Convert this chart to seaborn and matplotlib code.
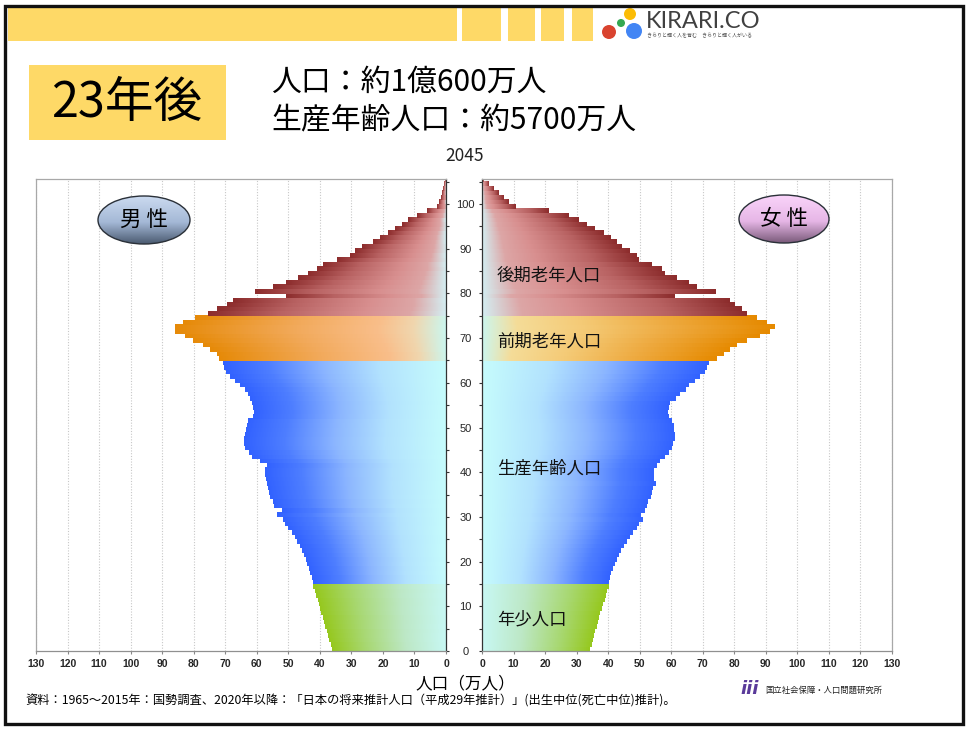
import numpy as np
import pandas as pd
import matplotlib
matplotlib.use("Agg")
import matplotlib.pyplot as plt
import seaborn as sns
from matplotlib.colors import LinearSegmentedColormap
from matplotlib.patches import Rectangle, Ellipse

# ---------------- data (万人) ----------------
ages = list(range(0, 106))
male = [
    36.2, 36.6, 37.0, 37.4, 37.8, 38.3, 38.7, 39.1, 39.5, 39.9, 40.3, 40.7, 41.1, 41.6, 42.1,
    42.3, 42.6, 43.0, 43.5, 44.0, 44.5, 45.0, 45.6, 46.2, 47.3,
    48.0, 48.8, 50.0, 51.2, 51.8, 53.7, 52.1, 54.5, 55.0, 55.8,
    56.2, 56.4, 56.6, 57.2, 57.4, 57.4, 56.9, 59.0, 61.5, 62.6,
    63.6, 63.9, 63.9, 63.8, 63.4, 63.0, 62.7, 61.3, 61.0, 61.1,
    61.6, 62.1, 62.7, 63.7, 65.3, 66.9, 68.5, 69.8, 70.4, 70.8,
    72.0, 72.7, 74.8, 76.9, 80.1, 82.7, 85.9, 85.9, 83.3, 79.6,
    75.4, 72.7, 69.5, 67.4, 50.7, 60.6, 54.8, 50.7, 46.8, 43.6,
    41.0, 38.9, 34.7, 30.4, 28.9, 26.7, 23.0, 20.9, 18.3, 16.2,
    14.1, 11.9, 9.3, 6.1, 3.0, 2.2, 1.7, 1.2, 0.8, 0.5, 0.2]
female = [
    34.2, 34.6, 35.0, 35.4, 35.8, 36.2, 36.6, 37.0, 37.4, 37.8, 38.3, 38.7, 39.1, 39.5, 40.0,
    40.1, 40.3, 40.8, 41.3, 41.9, 42.5, 43.3, 44.0, 44.9, 45.7,
    46.9, 47.8, 49.0, 49.6, 50.9, 50.1, 51.4, 52.2, 52.6, 53.5,
    53.8, 54.0, 54.9, 54.3, 54.3, 54.5, 55.4, 56.4, 58.0, 59.1,
    60.0, 60.3, 60.9, 61.0, 60.8, 60.7, 60.1, 59.0, 58.8, 59.1,
    59.6, 61.2, 62.6, 64.4, 65.4, 67.5, 69.1, 70.4, 71.2, 71.8,
    74.4, 76.5, 78.6, 80.8, 83.9, 88.1, 91.3, 92.9, 90.3, 87.1,
    83.9, 82.3, 80.2, 78.4, 60.9, 73.9, 68.1, 65.4, 61.7, 58.0,
    57.0, 53.8, 49.6, 49.0, 46.9, 44.3, 42.7, 40.6, 38.5, 35.8,
    33.2, 30.5, 27.4, 21.0, 10.5, 8.3, 6.8, 5.2, 3.6, 2.0, 0.6]
band_names = ["年少人口", "生産年齢人口", "前期老年人口", "後期老年人口"]
band_start = [0, 15, 65, 75]
x_ticks = list(range(0, 131, 10))
age_ticks = list(range(0, 106, 5))
year_label = "2045"
title_box = "23年後"
summary = ["人口：約1億600万人", "生産年齢人口：約5700万人"]
source = "資料：1965～2015年：国勢調査、2020年以降：「日本の将来推計人口（平成29年推計）」(出生中位(死亡中位)推計)。"

# ---------------- style ----------------
sns.set_style("white")
plt.rcParams["font.family"] = ["Noto Sans CJK JP", "DejaVu Sans"]

W, H = 969, 731
fig = plt.figure(figsize=(W / 100, H / 100), dpi=100)
fig.patch.set_facecolor("white")

def cm(stops):
    return LinearSegmentedColormap.from_list("g", stops)

cmap_green = cm([(0, "#C8F8F4"), (0.35, "#BDE8C6"), (0.7, "#A8D872"), (1, "#96C81E")])
cmap_blue = cm([(0, "#C6FCFC"), (0.3, "#B2E2FE"), (0.55, "#8CB6FF"), (0.8, "#4E7EFF"), (1, "#3262FF")])
cmap_orange_m = cm([(0, "#CCF6EE"), (0.12, "#F0D6AE"), (0.25, "#F9BE8A"), (0.55, "#F2AA5C"), (1, "#E68A08")])
cmap_orange_f = cm([(0, "#CCF6EE"), (0.12, "#F5DC98"), (0.35, "#F4CA76"), (0.65, "#EEAA40"), (1, "#E68A00")])
cmap_brown = cm([(0, "#D4EEF2"), (0.15, "#DDA6A6"), (0.35, "#D88F8F"), (0.7, "#B86262"), (1, "#8C2C2C")])

def cmap_for(age, female_side):
    if age < band_start[1]:
        return cmap_green
    if age < band_start[2]:
        return cmap_blue
    if age < band_start[3]:
        return cmap_orange_f if female_side else cmap_orange_m
    return cmap_brown

df = pd.DataFrame({"age": ages, "pos": np.array(ages) + 0.5, "male": male, "female": female})

ax_h = 472 / H
ax_b = (H - 651) / H
axL = fig.add_axes([36 / W, ax_b, 410 / W, ax_h])
axR = fig.add_axes([482 / W, ax_b, 410 / W, ax_h])

grad = np.linspace(0, 1, 256).reshape(1, -1)

for ax, col, fem in [(axL, "male", False), (axR, "female", True)]:
    sns.barplot(data=df, x=col, y="pos", orient="y", native_scale=True, width=1.0,
                errorbar=None, color="#888888", linewidth=0, ax=ax, zorder=2)
    for p in list(ax.patches):
        y0, h, w = p.get_y(), p.get_height(), p.get_width()
        age = int(round(y0 + h / 2 - 0.5))
        # gradient painted over the seaborn bar, slightly overlapping neighbours to avoid seams
        ax.imshow(grad, extent=(0, w, y0 - 0.04, y0 + h + 0.04), cmap=cmap_for(age, fem),
                  aspect="auto", interpolation="bilinear", zorder=2.1)
        p.set_facecolor("none")
    ax.set_xlabel("")
    ax.set_ylabel("")
    ax.set_ylim(0, 105.6)
    ax.set_xticks(x_ticks)
    ax.set_xticklabels([str(v) for v in x_ticks], fontfamily="Liberation Sans",
                       fontweight="bold", fontsize=7.5)
    ax.grid(axis="x", linestyle=(0, (1, 1.5)), color="#C8C8C8", linewidth=0.8)
    ax.grid(axis="y", visible=False)
    ax.set_axisbelow(True)
    ax.tick_params(axis="x", direction="out", length=2.5, width=0.8, color="#888888", pad=3.5,
                   bottom=True)
    ax.set_yticks(age_ticks)
    for s in ax.spines.values():
        s.set_linewidth(0.9)
        s.set_color("#A8A8A8")
    ax.spines["bottom"].set_color("#909090")

axL.set_xlim(130, 0)
axR.set_xlim(0, 130)

axL.yaxis.tick_right()
axL.set_yticklabels([str(v) if v % 10 == 0 else "" for v in age_ticks],
                    fontfamily="Liberation Sans", fontsize=8)
for lbl in axL.get_yticklabels():
    lbl.set_horizontalalignment("center")
axL.tick_params(axis="y", direction="out", length=2.5, width=0.8, color="#333333",
                pad=11.5, right=True, left=False)
axL.spines["right"].set_color("#333333")

axR.set_yticklabels([])
axR.tick_params(axis="y", direction="out", length=2.5, width=0.8, color="#333333",
                left=True, right=False)
axR.spines["left"].set_color("#333333")
for ax in (axL, axR):
    ax.set_ylim(0, 105.6)

# ---------------- overlay (pixel coords) ----------------
ov = fig.add_axes([0, 0, 1, 1], zorder=5)
ov.set_xlim(0, W)
ov.set_ylim(H, 0)
ov.axis("off")
ov.patch.set_visible(False)

yellow = "#FED967"
ov.add_patch(Rectangle((8, 7), 449, 34, facecolor=yellow, edgecolor="none"))
for x0, w in [(462, 39), (508, 27), (541, 23), (572, 21)]:
    ov.add_patch(Rectangle((x0, 7), w, 34, facecolor=yellow, edgecolor="none"))

# logo
for (cx, cy, r, c) in [(609, 32, 7, "#D9432F"), (621, 23, 4, "#34A853"),
                       (630, 14, 6, "#FBBC05"), (634, 31, 8, "#4285F4")]:
    ov.add_patch(Ellipse((cx, cy), 2 * r, 2 * r, facecolor=c, edgecolor="none"))
ov.text(646, 22, "KIRARI.CO", fontsize=17, fontfamily=["Lato", "DejaVu Sans"],
        color="#404040", ha="left", va="center")
ov.text(647, 35.5, "きらりと輝く人を育む　きらりと輝く人がいる", fontsize=3.6,
        color="#505050", ha="left", va="center")

# frame
ov.add_patch(Rectangle((5.5, 5.5), 958, 718, facecolor="none", edgecolor="#111111",
                       linewidth=2.4))

# title box
ov.add_patch(Rectangle((29, 65), 197, 75, facecolor=yellow, edgecolor="none"))
ov.text(127, 103, title_box, fontsize=35, ha="center", va="center", color="black")
ov.text(271, 82, summary[0], fontsize=21.5, ha="left", va="center", color="black")
ov.text(271, 121, summary[1], fontsize=21.5, ha="left", va="center", color="black")
ov.text(465, 156, year_label, fontsize=12.5, ha="center", va="center", color="#222222")

# gender ellipses with gradient
def grad_ellipse(cx, cy, w, h, colors, label):
    e = Ellipse((cx, cy), w, h, facecolor="none", edgecolor="#2A3038", linewidth=1.0, zorder=3)
    ov.add_patch(e)
    g = np.linspace(0, 1, 128).reshape(-1, 1)
    im = ov.imshow(g, extent=(cx - w / 2, cx + w / 2, cy + h / 2, cy - h / 2),
                   cmap=cm(colors), aspect="auto", interpolation="bilinear", zorder=2)
    im.set_clip_path(e)
    ov.text(cx, cy, label, fontsize=15.5, ha="center", va="center", color="black", zorder=4)

grad_ellipse(144, 220, 92, 48, [(0, "#CBDAF0"), (0.55, "#A4B8D6"), (1, "#4A5A70")], "男 性")
grad_ellipse(784, 219, 90, 48, [(0, "#FAD4FA"), (0.55, "#E6B6E6"), (1, "#7A5A7A")], "女 性")

# band labels
for name, y in zip(band_names, [619, 469, 342, 276]):
    ov.text(497, y, name, fontsize=12.5, ha="left", va="center", color="#111111")

ov.text(465, 684, "人口（万人）", fontsize=12, ha="center", va="center", color="black")
ov.text(25, 701, source, fontsize=8.8, ha="left", va="center", color="black")

ov.text(750, 689, "iii", fontsize=13, fontstyle="italic", fontweight="bold",
        fontfamily=["DejaVu Sans"], color="#5A3A9A", ha="center", va="center")
ov.text(765, 690, "国立社会保障・人口問題研究所", fontsize=6, ha="left", va="center",
        color="#222222")

ov.set_xlim(0, W)
ov.set_ylim(H, 0)

fig.savefig("out.png", dpi=100, facecolor="white")
